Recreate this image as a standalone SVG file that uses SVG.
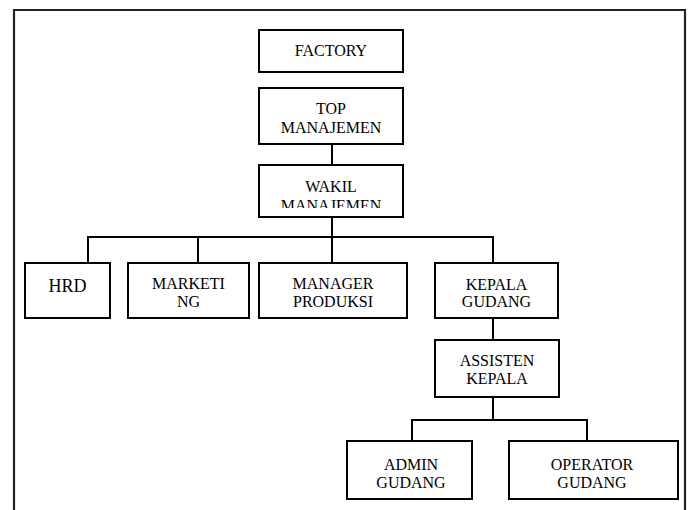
<svg xmlns="http://www.w3.org/2000/svg" width="689" height="510" viewBox="0 0 689 510">
<style>
.box{fill:#fff;stroke:#000;stroke-width:2}
.ln{fill:none;stroke:#000;stroke-width:2}
text{font-family:'Liberation Serif','Times New Roman',serif;font-size:16px;fill:#000;text-anchor:middle}
</style>
<defs>
<clipPath id="clipWakil"><rect x="259" y="165" width="144" height="43"/></clipPath>
</defs>
<rect width="689" height="510" fill="#fff"/>
<path d="M14,512 V10 H685 V512" fill="none" stroke="#222" stroke-width="2.2"/>
<g id="connectors">
<path class="ln" d="M332,144 V165"/>
<path class="ln" d="M332,217 V263"/>
<path class="ln" d="M88,263 V237 H493 V263"/>
<path class="ln" d="M198,237 V263"/>
<path class="ln" d="M493,318 V340"/>
<path class="ln" d="M493,397 V420"/>
<path class="ln" d="M412,441 V420 H587 V441"/>
</g>
<g id="factory"><rect class="box" x="259" y="30" width="144" height="42"/><text x="331" y="56">FACTORY</text></g>
<g id="top"><rect class="box" x="259" y="88" width="144" height="56"/><text x="331" y="114">TOP</text><text x="331" y="133">MANAJEMEN</text></g>
<g id="wakil"><rect class="box" x="259" y="165" width="144" height="52"/><g clip-path="url(#clipWakil)"><text x="331" y="192">WAKIL</text><text x="331" y="211">MANAJEMEN</text></g></g>
<g id="hrd"><rect class="box" x="25" y="263" width="85" height="55"/><text x="67.5" y="292" style="font-size:18px">HRD</text></g>
<g id="marketing"><rect class="box" x="128" y="263" width="121" height="55"/><text x="188.5" y="289">MARKETI</text><text x="188.5" y="307">NG</text></g>
<g id="manager"><rect class="box" x="259" y="263" width="148" height="55"/><text x="333" y="289">MANAGER</text><text x="333" y="307">PRODUKSI</text></g>
<g id="kepala"><rect class="box" x="435" y="263" width="123" height="55"/><text x="496.5" y="290">KEPALA</text><text x="496.5" y="307">GUDANG</text></g>
<g id="assisten"><rect class="box" x="435" y="340" width="124" height="57"/><text x="497" y="366">ASSISTEN</text><text x="497" y="384">KEPALA</text></g>
<g id="admin"><rect class="box" x="347" y="441" width="125" height="58"/><text x="411" y="470">ADMIN</text><text x="411" y="488">GUDANG</text></g>
<g id="operator"><rect class="box" x="509" y="441" width="169" height="58"/><text x="592" y="470">OPERATOR</text><text x="592" y="488">GUDANG</text></g>
</svg>
